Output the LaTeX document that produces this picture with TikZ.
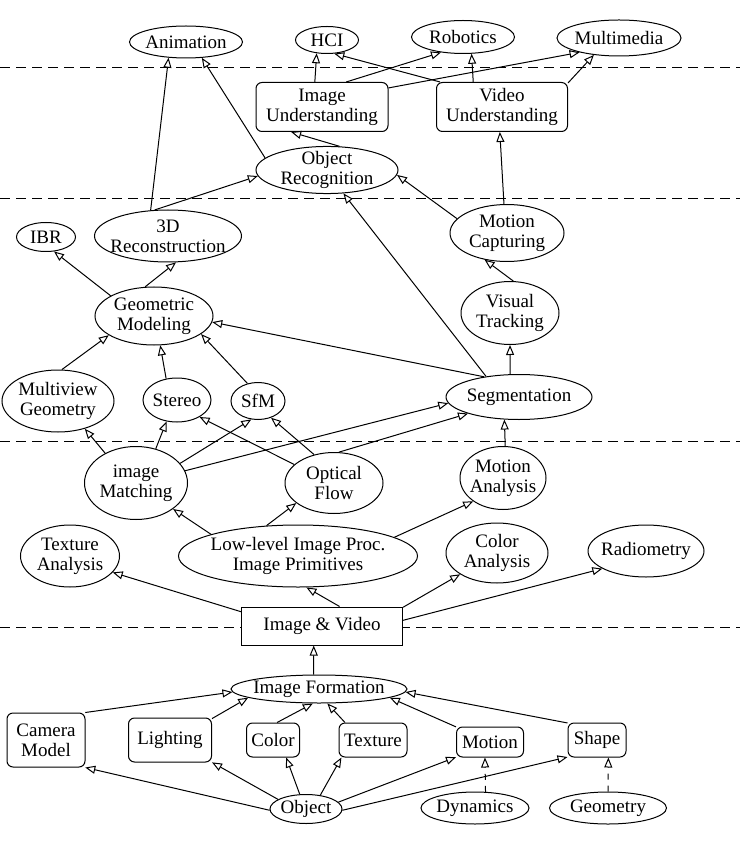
\documentclass[tikz,border=0pt]{standalone}
\usepackage{fontspec}
\setmainfont{Liberation Serif}
\usetikzlibrary{shapes.geometric,arrows.meta}

\begin{document}
\begin{tikzpicture}[x=0.5pt,y=-0.5pt,line width=0.5pt,
        every node/.style={draw=black,fill=white,inner sep=0pt,align=center,font=\fontsize{9.5}{10}\selectfont},
        ell/.style={ellipse,inner xsep=-4pt,inner ysep=-1pt},
        rbox/.style={rectangle,rounded corners=3pt},
        wh/.style 2 args={minimum width=#1pt,minimum height=#2pt},
        >={Triangle[open,length=5pt,width=4pt]}]
        \useasboundingbox (0,0) rectangle (740,855);
        % layer separators
        \foreach \y in {68,199,441,627}
        \draw[dash pattern=on 5pt off 3pt] (0,\y) -- (740,\y);

        % applications
        \node[ell,wh={56.5}{16}] (anim) at (186,42) {Animation};
        \node[ell,wh={31.5}{13.5}] (hci) at (327,40) {HCI};
        \node[ell,wh={51.5}{16.5}] (robo) at (463,37) {Robotics};
        \node[ell,wh={62}{18}] (mm) at (619,38) {Multimedia};
        \node[rbox,wh={66}{24.5}] (iu) at (322,107) {Image\\Understanding};
        \node[rbox,wh={65.5}{24.5}] (vu) at (502,107) {Video\\Understanding};
        \node[ell,wh={71}{23}] (objrec) at (327,170) {Object\\Recognition};

        % mid level
        \node[ell,wh={29.5}{14.5}] (ibr) at (46,237) {IBR};
        \node[ell,wh={73.5}{26}] (recon) at (168,236) {3D\\Reconstruction};
        \node[ell,wh={57}{28.5}] (mocap) at (507,233) {Motion\\Capturing};
        \node[ell,wh={59}{29}] (geom) at (154,316) {Geometric\\Modeling};
        \node[ell,wh={49}{31.5}] (vistrack) at (510,313) {Visual\\Tracking};
        \node[ell,wh={56}{31}] (multiview) at (58,401) {Multiview\\Geometry};
        \node[ell,wh={34}{22}] (stereo) at (177,400) {Stereo};
        \node[ell,wh={27}{18.5}] (sfm) at (258,401) {SfM};
        \node[ell,wh={73}{22.5}] (seg) at (519,397) {Segmentation};

        % low level
        \node[ell,wh={51.5}{36.5}] (match) at (136,483) {image\\Matching};
        \node[ell,wh={49}{30.5}] (flow) at (334,483) {Optical\\Flow};
        \node[ell,wh={43}{31.5}] (motan) at (503,478) {Motion\\Analysis};
        \node[ell,wh={49.5}{31}] (texan) at (70,556) {Texture\\Analysis};
        \node[ell,wh={119.5}{31}] (lowlevel) at (298,556) {Low-level Image Proc.\\Image Primitives};
        \node[ell,wh={51}{30}] (colan) at (497,553) {Color\\Analysis};
        \node[ell,wh={58}{26}] (radio) at (646,551) {Radiometry};
        \node[rectangle,wh={80.5}{19}] (imvid) at (322,626) {Image \& Video};

        % image formation
        \node[ell,wh={88}{14}] (imform) at (319,689) {Image Formation};
        \node[rbox,wh={39}{27}] (cam) at (46,740) {Camera\\Model};
        \node[rbox,wh={41.5}{22}] (light) at (170,740) {Lighting};
        \node[rbox,wh={26.5}{17}] (color) at (273,740) {Color};
        \node[rbox,wh={34}{17}] (texture) at (373,740) {Texture};
        \node[rbox,wh={33.5}{15}] (motion) at (490,742) {Motion};
        \node[rbox,wh={29}{17}] (shape) at (597,740) {Shape};
        \node[ell,wh={36}{14.5}] (object) at (306,809) {Object};
        \node[ell,wh={54}{16}] (dyn) at (475,808) {Dynamics};
        \node[ell,wh={58.5}{16}] (geo) at (608,808) {Geometry};

        % top layer
        \draw[->] (iu.106) -- (hci.232);
        \draw[->] (iu.46) -- (robo.215);
        \draw[->] (iu.16) -- (mm.200);
        \draw[->] (vu.158) -- (hci.298);
        \draw[->] (vu.139) -- (robo.297);
        \draw[->] (vu.20) -- (mm.214);
        \draw[->] (objrec.62) -- (iu.219);
        \draw[->] (objrec.169) -- (anim.315);
        \draw[->] (recon.124) -- (anim.222);
        \draw[->] (recon.117) -- (objrec.185);
        \draw[->] (mocap.96) -- (vu.265);
        \draw[->] (mocap.164) -- (objrec.356);

        % middle layer
        \draw[->] (seg.148) -- (objrec.305);
        \draw[->] (seg.150) -- (geom.354);
        \draw[->] (seg.111) -- (vistrack.270);
        \draw[->] (vistrack.84) -- (mocap.230);
        \draw[->] (geom.155) -- (ibr.299);
        \draw[->] (geom.107) -- (recon.287);
        \draw[->] (multiview.83) -- (geom.203);
        \draw[->] (stereo.117) -- (geom.282);
        \draw[->] (sfm.121) -- (geom.339);
        \draw[->] (motan.86) -- (seg.237);
        \draw[->] (match.136) -- (multiview.314);
        \draw[->] (match.60) -- (stereo.244);
        \draw[->] (match.24) -- (sfm.250);
        \draw[->] (match.14) -- (seg.185);
        \draw[->] (flow.155) -- (stereo.323);
        \draw[->] (flow.125) -- (sfm.308);
        \draw[->] (flow.81) -- (seg.198);

        % low layer
        \draw[->] (lowlevel.166) -- (match.325);
        \draw[->] (lowlevel.136) -- (flow.208);
        \draw[->] (lowlevel.11) -- (motan.218);
        \draw[->] (imvid.170) -- (texan.339);
        \draw[->] (imvid.48) -- (lowlevel.285);
        \draw[->] (imvid.13) -- (colan.210);
        \draw[->] (imvid.4) -- (radio.202);

        % formation layer
        \draw[->] (imform.110) -- (imvid.247);
        \draw[->] (cam.35) -- (imform.182);
        \draw[->] (light.27) -- (imform.187);
        \draw[->] (color.77) -- (imform.247);
        \draw[->] (texture.148) -- (imform.300);
        \draw[->] (motion.156) -- (imform.353);
        \draw[->] (shape.150) -- (imform.358);
        \draw[->] (object.182) -- (cam.325);
        \draw[->] (object.161) -- (light.332);
        \draw[->] (object.113) -- (color.307);
        \draw[->] (object.44) -- (texture.209);
        \draw[->] (object.12) -- (motion.204);
        \draw[->] (object.358) -- (shape.210);
        \draw[->,dashed] (dyn.57) -- (motion.252);
        \draw[->,dashed] (geo.90) -- (shape.303);
    \end{tikzpicture}
\end{document}
